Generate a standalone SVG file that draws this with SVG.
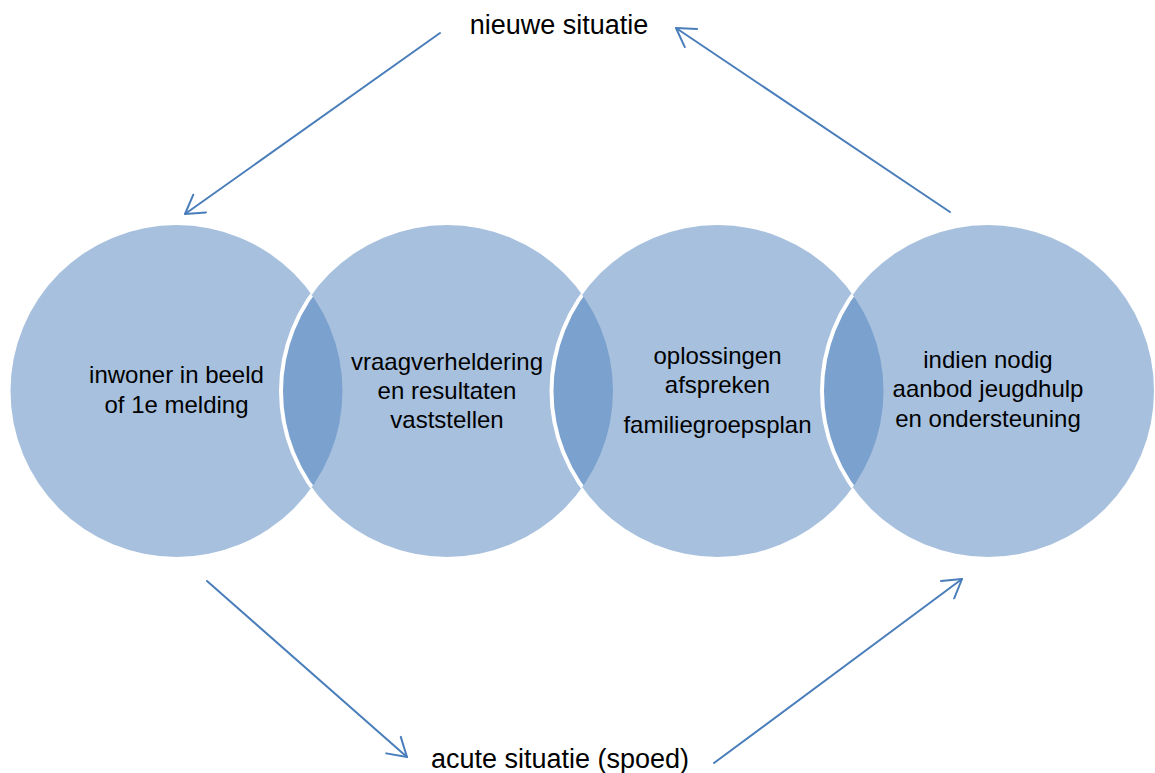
<svg xmlns="http://www.w3.org/2000/svg" width="1155" height="773" viewBox="0 0 1155 773">
  <style>
    .c { fill: #4F81BD; fill-opacity: 0.5; }
    .edge { fill: none; stroke: #FFFFFF; stroke-width: 4; }
    .t { font-family: "Liberation Sans", Arial, sans-serif; font-size: 24px; fill: #000; text-anchor: middle; }
    .lbl { font-family: "Liberation Sans", Arial, sans-serif; font-size: 27px; fill: #000; text-anchor: middle; }
    .conn { fill: none; stroke: #4A7EBB; stroke-width: 2; stroke-linecap: round; marker-end: url(#arr); }
  </style>
  <defs>
    <marker id="arr" markerUnits="userSpaceOnUse" markerWidth="24" markerHeight="24" viewBox="0 0 24 24" refX="22" refY="12" orient="auto">
      <path d="M4,1 L22,12 L4,23" fill="none" stroke="#4A7EBB" stroke-width="2" stroke-linecap="round" stroke-linejoin="round"/>
    </marker>
    <clipPath id="k1"><circle cx="176.5" cy="391" r="166"/></clipPath>
    <clipPath id="k2"><circle cx="447" cy="391" r="166"/></clipPath>
    <clipPath id="k3"><circle cx="717.5" cy="391" r="166"/></clipPath>
  </defs>
  <rect width="1155" height="773" fill="#FFFFFF"/>

  <g id="node1">
    <circle class="c" cx="176.5" cy="391" r="166"/>
  </g>
  <g id="node2">
    <circle class="c" cx="447" cy="391" r="166"/>
  </g>
  <g id="node3">
    <circle class="c" cx="717.5" cy="391" r="166"/>
  </g>
  <g id="node4">
    <circle class="c" cx="988" cy="391" r="166"/>
  </g>
  <g id="edges">
    <circle class="edge" cx="447" cy="391" r="166" clip-path="url(#k1)"/>
    <circle class="edge" cx="717.5" cy="391" r="166" clip-path="url(#k2)"/>
    <circle class="edge" cx="988" cy="391" r="166" clip-path="url(#k3)"/>
  </g>
  <g id="texts">
    <text class="t" x="176.5" y="383">inwoner in beeld</text>
    <text class="t" x="176.5" y="413">of 1e melding</text>
    <text class="t" x="447" y="370">vraagverheldering</text>
    <text class="t" x="447" y="399">en resultaten</text>
    <text class="t" x="447" y="428">vaststellen</text>
    <text class="t" x="717.5" y="364">oplossingen</text>
    <text class="t" x="717.5" y="393">afspreken</text>
    <text class="t" x="717.5" y="433">familiegroepsplan</text>
    <text class="t" x="988" y="368">indien nodig</text>
    <text class="t" x="988" y="397">aanbod jeugdhulp</text>
    <text class="t" x="988" y="427">en ondersteuning</text>
  </g>
  <g id="label-top">
    <text class="lbl" x="559" y="34">nieuwe situatie</text>
  </g>
  <g id="label-bottom">
    <text class="lbl" x="560" y="768">acute situatie (spoed)</text>
  </g>
  <g id="connectors">
    <line class="conn" x1="440" y1="33" x2="185" y2="214"/>
    <line class="conn" x1="950" y1="212" x2="676" y2="28"/>
    <line class="conn" x1="207" y1="581" x2="407" y2="757"/>
    <line class="conn" x1="714" y1="763" x2="962" y2="579"/>
  </g>
</svg>
